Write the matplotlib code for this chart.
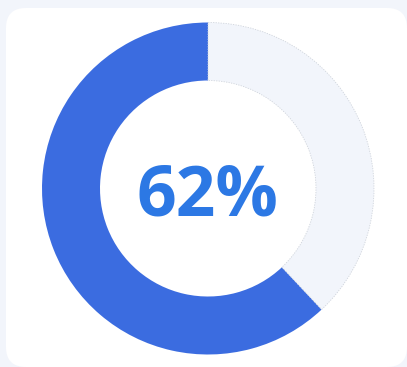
import matplotlib

matplotlib.use("Agg")
import matplotlib.pyplot as plt
from matplotlib.patches import FancyBboxPatch

# data
segment_labels = ["Done", "Remaining"]
segment_values = [62, 38]
segment_colors = ["#3b6ce0", "#f2f5fb"]
center_label = "62%"

W, H = 407, 367
fig = plt.figure(figsize=(W / 100, H / 100), dpi=100, facecolor="#f2f5fb")
ax = fig.add_axes((0, 0, 1, 1))
ax.set_xlim(0, W)
ax.set_ylim(0, H)
ax.set_aspect("equal")
ax.set_axis_off()

# white card with rounded corners
card = FancyBboxPatch(
    (6, 0),
    401,
    359,
    boxstyle="round,pad=0,rounding_size=20",
    facecolor="white",
    edgecolor="none",
    zorder=0,
)
ax.add_patch(card)

wedges, _ = ax.pie(
    segment_values,
    colors=segment_colors,
    startangle=90,
    counterclock=True,
    center=(208, 178.5),
    radius=166,
    wedgeprops={"width": 58, "edgecolor": "none"},
    frame=True,
)
wedges[1].set_edgecolor("#cfd4dc")
wedges[1].set_linestyle((0, (1.5, 1.5)))
wedges[1].set_linewidth(0.6)
ax.set_xlim(0, W)
ax.set_ylim(0, H)
ax.set_axis_off()

ax.text(
    207.5,
    152,
    center_label,
    ha="center",
    va="baseline",
    fontsize=50,
    fontweight="bold",
    family=["Open Sans", "DejaVu Sans"],
    color="#2c78e4",
)

fig.savefig("out.png", dpi=100, facecolor=fig.get_facecolor())
